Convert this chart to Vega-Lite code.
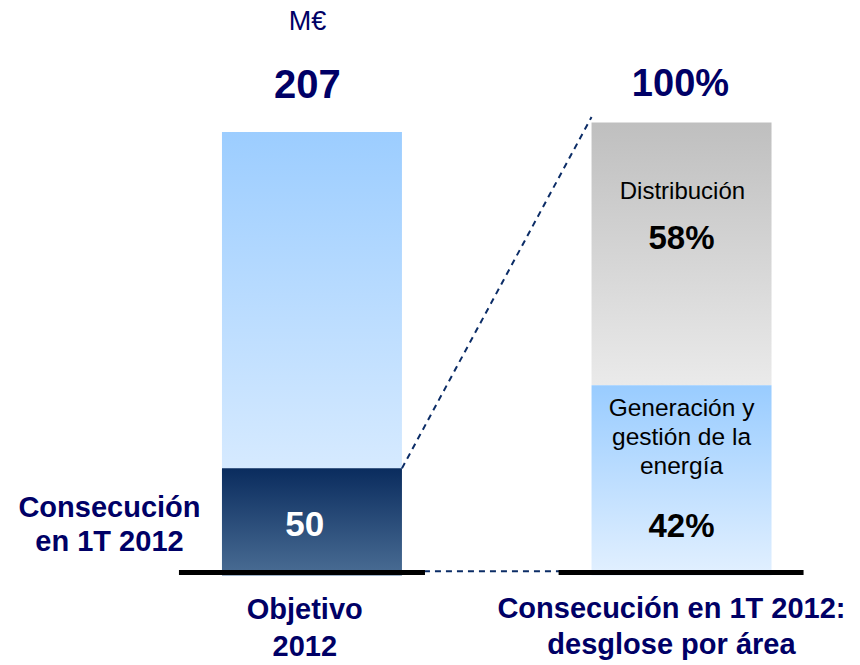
{
  "$schema": "https://vega.github.io/schema/vega-lite/v6.json",
  "width": 860,
  "height": 665,
  "autosize": {"type": "none"},
  "padding": 0,
  "background": "white",
  "config": {"view": {"stroke": null}, "font": "Liberation Sans"},
  "datasets": {
    "objetivo": [
      {"cat": "Objetivo", "serie": "Objetivo 2012", "valor": 207},
      {"cat": "Objetivo", "serie": "Consecución en 1T 2012", "valor": 50}
    ],
    "desglose": [
      {"cat": "Desglose", "area": "Generación y gestión de la energía", "cuota": 0.42},
      {"cat": "Desglose", "area": "Distribución", "cuota": 0.58}
    ]
  },
  "layer": [
    {
      "data": {"name": "desglose"},
      "transform": [
        {"stack": "cuota", "groupby": ["cat"], "sort": [{"field": "area", "order": "descending"}], "as": ["y0", "y1"]}
      ],
      "layer": [
        {
          "transform": [{"filter": "datum.area == 'Distribución'"}],
          "mark": {"type": "bar", "color": {"gradient": "linear", "x1": 0, "y1": 0, "x2": 0, "y2": 1, "stops": [{"offset": 0, "color": "#BFBFBF"}, {"offset": 1, "color": "#EAEAEA"}]}},
          "encoding": {
            "x": {"field": "cat", "type": "nominal", "scale": {"type": "band", "domain": ["Objetivo", "Desglose"], "paddingInner": 0.513, "paddingOuter": 0.42, "align": 0.715}, "axis": null},
            "y": {"field": "y0", "type": "quantitative", "scale": {"domain": [-0.1976, 1.2704], "nice": false, "zero": false}, "axis": null},
            "y2": {"field": "y1"}
          }
        },
        {
          "transform": [{"filter": "datum.area != 'Distribución'"}],
          "mark": {"type": "bar", "color": {"gradient": "linear", "x1": 0, "y1": 0, "x2": 0, "y2": 1, "stops": [{"offset": 0, "color": "#99CCFF"}, {"offset": 1, "color": "#E2F0FF"}]}},
          "encoding": {
            "x": {"field": "cat", "type": "nominal", "scale": {"type": "band"}, "axis": null},
            "y": {"field": "y0", "type": "quantitative", "axis": null},
            "y2": {"field": "y1"}
          }
        },
        {
          "transform": [{"filter": "datum.area == 'Distribución'"}],
          "mark": {"type": "text", "fontSize": 38, "fontWeight": "bold", "color": "#000066", "baseline": "middle", "align": "center", "dy": -37},
          "encoding": {
            "x": {"field": "cat", "type": "nominal", "scale": {"type": "band"}, "bandPosition": 0.494, "axis": null},
            "y": {"field": "y1", "type": "quantitative", "axis": null},
            "text": {"field": "y1", "type": "quantitative", "format": ".0%"}
          }
        },
        {
          "transform": [{"filter": "datum.area == 'Distribución'"}],
          "mark": {"type": "text", "fontSize": 24, "color": "#000000", "baseline": "middle", "align": "center"},
          "encoding": {
            "x": {"field": "cat", "type": "nominal", "scale": {"type": "band"}, "bandPosition": 0.505, "axis": null},
            "y": {"datum": 0.847, "type": "quantitative", "axis": null},
            "text": {"field": "area"}
          }
        },
        {
          "transform": [{"filter": "datum.area == 'Distribución'"}],
          "mark": {"type": "text", "fontSize": 33, "fontWeight": "bold", "color": "#000000", "baseline": "middle", "align": "center"},
          "encoding": {
            "x": {"field": "cat", "type": "nominal", "scale": {"type": "band"}, "bandPosition": 0.5, "axis": null},
            "y": {"datum": 0.743, "type": "quantitative", "axis": null},
            "text": {"field": "cuota", "type": "quantitative", "format": ".0%"}
          }
        },
        {
          "transform": [{"filter": "datum.area != 'Distribución'"}],
          "mark": {"type": "text", "fontSize": 24.5, "color": "#000000", "baseline": "middle", "align": "center", "lineHeight": 29, "text": ["Generación y", "gestión de la", "energía"]},
          "encoding": {
            "x": {"field": "cat", "type": "nominal", "scale": {"type": "band"}, "bandPosition": 0.5, "axis": null},
            "y": {"datum": 0.3675, "type": "quantitative", "axis": null}
          }
        },
        {
          "transform": [{"filter": "datum.area != 'Distribución'"}],
          "mark": {"type": "text", "fontSize": 33, "fontWeight": "bold", "color": "#000000", "baseline": "middle", "align": "center"},
          "encoding": {
            "x": {"field": "cat", "type": "nominal", "scale": {"type": "band"}, "bandPosition": 0.5, "axis": null},
            "y": {"datum": 0.107, "type": "quantitative", "axis": null},
            "text": {"field": "cuota", "type": "quantitative", "format": ".0%"}
          }
        },
        {
          "transform": [{"filter": "datum.area != 'Distribución'"}],
          "mark": {"type": "text", "fontSize": 29, "fontWeight": "bold", "color": "#000066", "baseline": "middle", "align": "center", "lineHeight": 36, "text": ["Consecución en 1T 2012:", "desglose por área"]},
          "encoding": {
            "x": {"field": "cat", "type": "nominal", "scale": {"type": "band"}, "bandPosition": 0.444, "axis": null},
            "y": {"datum": -0.074, "type": "quantitative", "axis": null}
          }
        }
      ]
    },
    {
      "data": {"name": "objetivo"},
      "layer": [
        {
          "transform": [{"filter": "datum.serie == 'Objetivo 2012'"}],
          "mark": {"type": "bar", "color": {"gradient": "linear", "x1": 0, "y1": 0, "x2": 0, "y2": 1, "stops": [{"offset": 0, "color": "#9CCDFF"}, {"offset": 1, "color": "#E8F3FF"}]}},
          "encoding": {
            "x": {"field": "cat", "type": "nominal", "scale": {"type": "band"}, "axis": null},
            "y": {"field": "valor", "type": "quantitative", "scale": {"domain": [-41.77, 268.6], "nice": false, "zero": false}, "axis": null}
          }
        },
        {
          "transform": [{"filter": "datum.serie != 'Objetivo 2012'"}],
          "mark": {"type": "bar", "color": {"gradient": "linear", "x1": 0, "y1": 0, "x2": 0, "y2": 1, "stops": [{"offset": 0, "color": "#0A2C5E"}, {"offset": 1, "color": "#4A6D94"}]}},
          "encoding": {
            "x": {"field": "cat", "type": "nominal", "scale": {"type": "band"}, "axis": null},
            "y": {"field": "valor", "type": "quantitative", "axis": null}
          }
        },
        {
          "transform": [{"filter": "datum.serie == 'Objetivo 2012'"}],
          "mark": {"type": "text", "fontSize": 40, "fontWeight": "bold", "color": "#000066", "baseline": "middle", "align": "center", "dy": -46},
          "encoding": {
            "x": {"field": "cat", "type": "nominal", "scale": {"type": "band"}, "bandPosition": 0.475, "axis": null},
            "y": {"field": "valor", "type": "quantitative", "axis": null},
            "text": {"field": "valor", "type": "quantitative"}
          }
        },
        {
          "transform": [{"filter": "datum.serie == 'Objetivo 2012'"}],
          "mark": {"type": "text", "fontSize": 27, "color": "#000066", "baseline": "middle", "align": "center", "text": "M€"},
          "encoding": {
            "x": {"field": "cat", "type": "nominal", "scale": {"type": "band"}, "bandPosition": 0.475, "axis": null},
            "y": {"datum": 258.1, "type": "quantitative", "axis": null}
          }
        },
        {
          "transform": [{"filter": "datum.serie == 'Objetivo 2012'"}],
          "mark": {"type": "text", "fontSize": 29, "fontWeight": "bold", "color": "#000066", "baseline": "middle", "align": "center", "lineHeight": 37, "text": ["Objetivo", "2012"]},
          "encoding": {
            "x": {"field": "cat", "type": "nominal", "scale": {"type": "band"}, "bandPosition": 0.46, "axis": null},
            "y": {"datum": -16.1, "type": "quantitative", "axis": null}
          }
        },
        {
          "transform": [{"filter": "datum.serie != 'Objetivo 2012'"}],
          "mark": {"type": "text", "fontSize": 35, "fontWeight": "bold", "color": "#FFFFFF", "baseline": "middle", "align": "center"},
          "encoding": {
            "x": {"field": "cat", "type": "nominal", "scale": {"type": "band"}, "bandPosition": 0.46, "axis": null},
            "y": {"datum": 23.8, "type": "quantitative", "axis": null},
            "text": {"field": "valor", "type": "quantitative"}
          }
        },
        {
          "transform": [{"filter": "datum.serie != 'Objetivo 2012'"}],
          "mark": {"type": "text", "fontSize": 29, "fontWeight": "bold", "color": "#000066", "baseline": "middle", "align": "center", "lineHeight": 34, "text": ["Consecución", "en 1T 2012"]},
          "encoding": {
            "x": {"field": "cat", "type": "nominal", "scale": {"type": "band"}, "bandPosition": -0.625, "axis": null},
            "y": {"datum": 31.5, "type": "quantitative", "axis": null}
          }
        },
        {
          "transform": [{"filter": "datum.serie != 'Objetivo 2012'"}],
          "mark": {"type": "rule", "color": "#0B2C66", "strokeWidth": 2, "strokeDash": [6, 5]},
          "encoding": {
            "x": {"datum": "Objetivo", "type": "nominal", "scale": {"type": "band"}, "bandPosition": 1, "axis": null},
            "x2": {"datum": "Desglose", "bandPosition": 0},
            "y": {"field": "valor", "type": "quantitative", "axis": null},
            "y2": {"datum": 214}
          }
        },
        {
          "transform": [{"filter": "datum.serie != 'Objetivo 2012'"}],
          "mark": {"type": "rule", "color": "#0B2C66", "strokeWidth": 2, "strokeDash": [6, 5]},
          "encoding": {
            "x": {"datum": "Objetivo", "type": "nominal", "scale": {"type": "band"}, "bandPosition": 1, "axis": null},
            "x2": {"datum": "Desglose", "bandPosition": 0},
            "y": {"datum": 2, "type": "quantitative", "axis": null}
          }
        },
        {
          "transform": [{"filter": "datum.serie != 'Objetivo 2012'"}],
          "mark": {"type": "rule", "color": "#000000", "strokeWidth": 5},
          "encoding": {
            "x": {"datum": "Objetivo", "type": "nominal", "scale": {"type": "band"}, "bandPosition": -0.239, "axis": null},
            "x2": {"datum": "Objetivo", "bandPosition": 1.128},
            "y": {"datum": 1.4, "type": "quantitative", "axis": null}
          }
        },
        {
          "transform": [{"filter": "datum.serie != 'Objetivo 2012'"}],
          "mark": {"type": "rule", "color": "#000000", "strokeWidth": 5},
          "encoding": {
            "x": {"datum": "Desglose", "type": "nominal", "scale": {"type": "band"}, "bandPosition": -0.183, "axis": null},
            "x2": {"datum": "Desglose", "bandPosition": 1.178},
            "y": {"datum": 1.4, "type": "quantitative", "axis": null}
          }
        }
      ]
    }
  ],
  "resolve": {"scale": {"y": "independent"}}
}
